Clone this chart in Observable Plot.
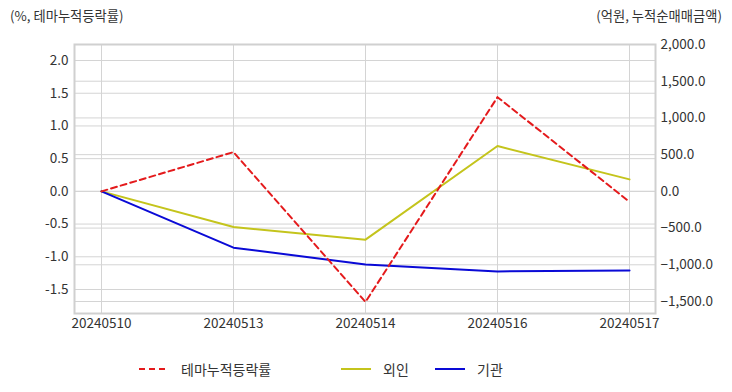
<!DOCTYPE html>
<html>
<head>
<meta charset="utf-8">
<script src="https://cdn.jsdelivr.net/npm/d3@7"></script>
<script src="https://cdn.jsdelivr.net/npm/@observablehq/plot@0.6"></script>
<style>
  body { margin: 0; background: #fff; font-family: "Noto Sans CJK KR", "Noto Sans", sans-serif; }
  #wrap { position: relative; width: 732px; height: 392px; }
  .t { position: absolute; font-size: 13.3px; color: #333; white-space: nowrap; }
  .leg { position: absolute; top: 359px; font-size: 14px; color: #333; display: flex; align-items: center; }
  .leg svg { margin-right: 12px; }
</style>
</head>
<body>
<div id="wrap">
  <div id="chart"></div>
  <div class="t" style="left:10px; top:6px;">(%, 테마누적등락률)</div>
  <div class="t" style="right:10px; top:6px;">(억원, 누적순매매금액)</div>
  <div class="leg" style="left:139px;"><svg width="30" height="4"><line x1="0" y1="2" x2="30" y2="2" stroke="#e41a1c" stroke-width="2" stroke-dasharray="6,4"/></svg>테마누적등락률</div>
  <div class="leg" style="left:341px;"><svg width="30" height="4"><line x1="0" y1="2" x2="30" y2="2" stroke="#c4c41c" stroke-width="2"/></svg>외인</div>
  <div class="leg" style="left:435px;"><svg width="30" height="4"><line x1="0" y1="2" x2="30" y2="2" stroke="#0a0ad6" stroke-width="2"/></svg>기관</div>
</div>
<script>
const dates = ["20240510", "20240513", "20240514", "20240516", "20240517"];
const themeRate = [0, 0.60, -1.69, 1.44, -0.16];
const foreign = [0, -486, -658, 617, 163];
const institution = [0, -767, -995, -1090, -1076];
const leftTicks = [-1.5, -1.0, -0.5, 0.0, 0.5, 1.0, 1.5, 2.0];
const rightTicks = [-1500, -1000, -500, 0, 500, 1000, 1500, 2000];

const leftMax = 2.245, leftMin = -1.867;
const k = leftMax / 2000; // right-axis value -> left-axis units

const themeData = dates.map((d, i) => ({date: d, v: themeRate[i]}));
const foreignData = dates.map((d, i) => ({date: d, v: foreign[i] * k}));
const instData = dates.map((d, i) => ({date: d, v: institution[i] * k}));

const fmtR = d3.format(",.1f");

const chart = Plot.plot({
  width: 732,
  height: 340,
  marginTop: 44,
  marginBottom: 27,
  marginLeft: 74,
  marginRight: 77,
  style: {fontFamily: "'Noto Sans CJK KR', 'Noto Sans', sans-serif", fontSize: "13.5px", color: "#333", background: "#fff"},
  x: {type: "point", domain: dates, padding: 0.2},
  y: {domain: [leftMin, leftMax]},
  marks: [
    Plot.ruleY(leftTicks, {stroke: "#d4d4d4", strokeWidth: 1}),
    Plot.ruleY(rightTicks.map(v => v * k), {stroke: "#d4d4d4", strokeWidth: 1}),
    Plot.ruleX(dates, {stroke: "#d4d4d4", strokeWidth: 1}),
    Plot.frame({stroke: "#d0d0d0", strokeWidth: 2}),
    Plot.axisX({tickSize: 0, tickPadding: 5, label: null, fill: "#333"}),
    Plot.axisY(leftTicks, {anchor: "left", tickSize: 0, tickPadding: 6, label: null, tickFormat: d => d.toFixed(1), fill: "#333"}),
    Plot.axisY(rightTicks.map(v => v * k), {anchor: "right", tickSize: 0, tickPadding: 5, label: null, tickFormat: d => fmtR(Math.round(d / k)), fill: "#333"}),
    Plot.line(foreignData, {x: "date", y: "v", stroke: "#c4c41c", strokeWidth: 2}),
    Plot.line(instData, {x: "date", y: "v", stroke: "#0a0ad6", strokeWidth: 2}),
    Plot.line(themeData, {x: "date", y: "v", stroke: "#e41a1c", strokeWidth: 2, strokeDasharray: "6,4"})
  ]
});
document.getElementById("chart").appendChild(chart);
</script>
</body>
</html>
